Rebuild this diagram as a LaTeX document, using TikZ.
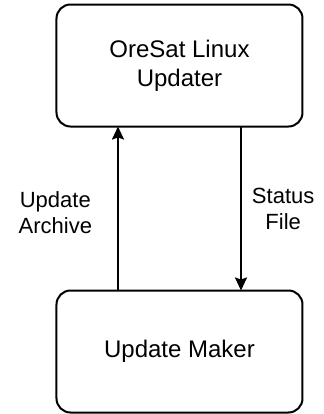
\documentclass[tikz,border=0pt]{standalone}
\usepackage{fontspec}
\setmainfont{Liberation Sans}
\usetikzlibrary{arrows.meta, positioning}

\begin{document}
\begin{tikzpicture}[x=0.5pt, y=-0.5pt,
    block/.style={draw=black, line width=1pt, rounded corners=7pt, outer sep=0pt,
        minimum width=123pt, minimum height=61pt, align=center, inner sep=0pt,
        font=\fontsize{12}{14.5}\selectfont},
    flow/.style={-{Stealth[length=6.5pt, width=6pt, inset=1pt]}, line width=1pt},
    flowlabel/.style={align=center, inner sep=0pt, font=\fontsize{11}{13}\selectfont}]
    \useasboundingbox (0,0) rectangle (324,414);

    % Boxes
    \node[block] (updater) at (179.5,65.5) {OreSat Linux\\Updater};
    \node[block, below=82pt of updater] (maker) {Update Maker};

    % Connectors with their labels
    \draw[flow] ([xshift=-30.75pt]maker.north) -- ([xshift=-30.75pt]updater.south)
        node[flowlabel, midway, left=12.5pt, yshift=-2pt] (archive) {Update\\Archive};
    \draw[flow] ([xshift=30.75pt]updater.south) -- ([xshift=30.75pt]maker.north)
        node[flowlabel, midway, right=5pt] (status) {Status\\File};
\end{tikzpicture}
\end{document}
